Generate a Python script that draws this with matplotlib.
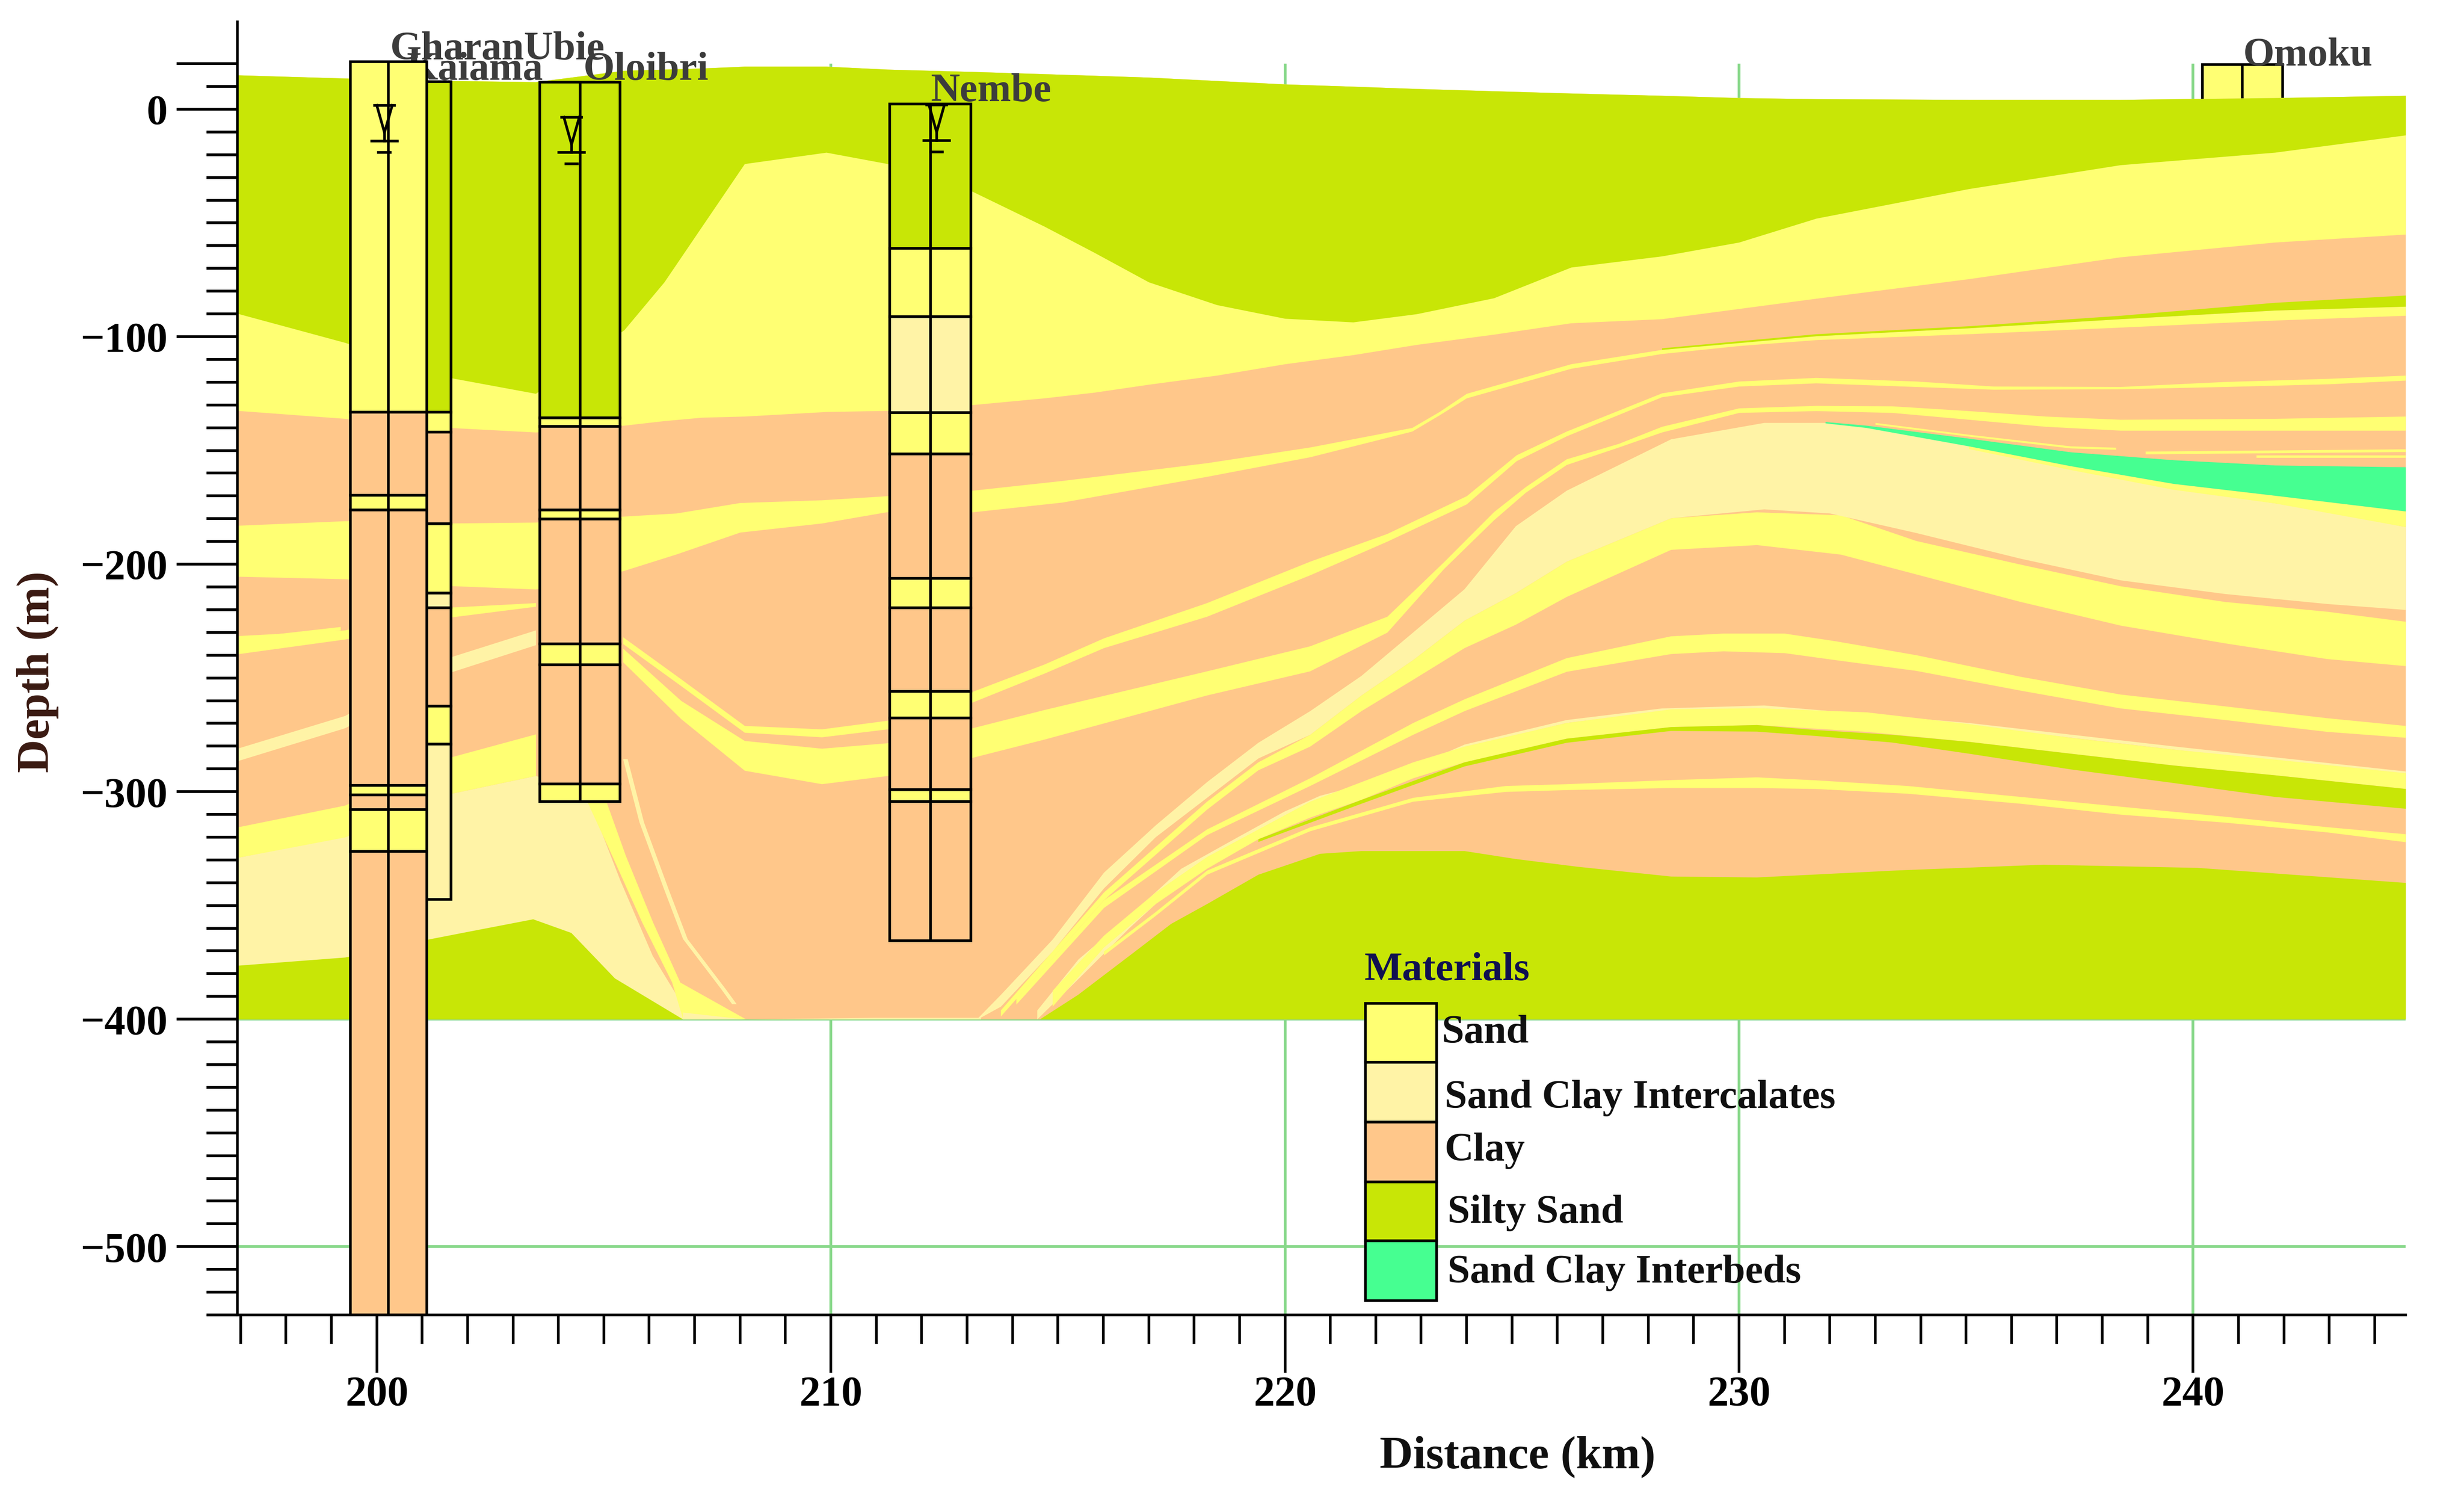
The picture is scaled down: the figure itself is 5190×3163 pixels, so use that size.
import numpy as np
import matplotlib
matplotlib.use('Agg')
import matplotlib.pyplot as plt
from matplotlib.patches import Rectangle

plt.rcParams['font.family'] = ['Liberation Serif', 'DejaVu Serif']

SAND = '#FFFF73'
SCI = '#FFF3A6'
CLAY = '#FFC78A'
SILTY = '#C8E606'
INTERBED = '#46FF91'
GRID = '#88D88A'
COLORS = {'sand': SAND, 'sci': SCI, 'clay': CLAY, 'silty': SILTY, 'interbed': INTERBED}

# top of the section, base of the silty sand, base of the first sand
main_x = [196.93, 199.3, 201.6, 203.5, 205.45, 206.33, 207.16, 208.1, 209.9, 211.25, 213.1, 214.7, 215.8, 217, 218.5,
          220, 221.5, 222.9, 224.6, 226.3, 228.3, 230, 231.7, 235.06, 238.4, 241.8, 244.68]
surface = [15, 13.6, 12.5, 12, 17, 17.5, 18, 18.8, 18.8, 17.5, 16.5, 15.5, 14.8, 14, 12.5,
           11, 10, 9, 8, 7, 6, 5, 4.5, 4.2, 4.2, 5, 6]
silty_base = [-89.8, -102.6, -118, -125, -97, -76, -51.6, -24, -19, -24, -36, -51.5, -63, -76, -86,
              -92, -93.6, -90, -83, -69.5, -64.6, -58.5, -48, -35, -24.5, -19, -11.4]
sand1_base = [-132.5, -136, -140, -142, -139, -137, -135.5, -135, -133, -132.5, -130, -127, -124.5, -121, -117,
              -112, -108, -103.5, -99, -94, -92.2, -87.7, -83.2, -74.6, -65, -58.5, -55]

# second sand, across the whole section
a_x = [196.93, 199.3, 201.6, 203.5, 205.42, 206.6, 208, 209.8, 211.25, 213.12, 215.1, 218.28, 220.55, 222.8, 223.4, 224,
       226.3, 228.3, 230, 231.7, 235.06, 238.4, 241.8, 244.68]
a_top = [-183, -181, -182, -181.6, -179, -177.6, -173, -171.8, -170, -167.6, -163.3, -155.5, -148.6, -140, -133, -125,
         -112, -105.7, -102, -99.7, -96.2, -92.2, -88.4, -86.7]
a_bot = [-205.4, -206.5, -209.5, -211, -203, -195.6, -186, -182, -177, -177.1, -172.8, -161.5, -152.9, -141.6, -134.5, -127,
         -114, -107.5, -104, -101.4, -98.8, -95.9, -92.8, -90.7]
a_silty_x = [228.3, 231.7, 235.06, 238.4, 241.8, 244.68]
a_silty_top = [-105, -98.8, -95.3, -90.7, -85, -81.8]
a_silty_bot = [-105.7, -99.7, -96.2, -92.2, -88.4, -86.7]

b_x = [196.93, 199.3, 201.6, 203.5]
b_top = [-231.5, -229, -219, -217]
b_bot = [-239.5, -233, -223.4, -218.6]
b2_x = [197.2, 199.2]
b2_top = [-232, -227.5]
b2_bot = [-233.5, -229]

c_x = [196.93, 199.3, 201.6, 203.5]
c_top = [-281, -266.6, -241, -229]
c_bot = [-286.5, -272, -247.7, -235.5]

p_x = [196.93, 199.3, 201.6, 203.5]
p_top = [-315.6, -306, -285, -274.7]
p_bot = [-329, -320, -301, -293]

# sand clay intercalates wedge on the left
n_x = [196.93, 199.3, 201.6, 203.5, 204.6, 205.36, 206.07, 206.74, 206.9]
n_top = [-329, -319.5, -301, -293, -300, -339, -372, -394, -400]

left_silty_x = [196.93, 199.3, 201.16, 201.88, 203.44, 204.28, 205.24, 206.74]
left_silty_top = [-376.4, -372.8, -364.8, -362, -356, -362, -382, -400]

sliver_depth = [-304.7, -328.1, -357.4, -383.8, -399.9]
sliver_left = [204.64, 205.18, 205.84, 206.5, 206.74]
sliver_right = [205.06, 205.48, 206.08, 206.68, 208.12]

thin_depth = [-285.6, -313.4, -342.7, -364.7, -386.7, -393.3]
thin_left = [205.42, 205.78, 206.32, 206.74, 207.58, 207.82]
thin_right = [205.52, 205.88, 206.42, 206.84, 207.68, 207.92]

strip_x = [206.74, 208.1, 211, 213.3]
strip_top = [-397, -400, -399.3, -399.3]

e_x = [205.42, 206.7, 208.1, 209.8, 211.25, 213.12, 214.7, 216.01, 218.28, 220.55, 222.25, 224, 225.1, 226.2,
       228.3, 230, 231.7, 233.9, 235.6, 238.4, 240.7, 243, 244.68]
e_top = [-232, -250.5, -271, -272.5, -268.7, -256, -244, -232.5, -217, -198.8, -186.6, -170, -152, -141.6,
         -124.8, -119.6, -118, -119.6, -121.8, -122, -119.8, -118.4, -117]
e_bot = [-235, -253.5, -274, -276, -272.5, -260.7, -248, -236.8, -223, -204.8, -190, -173.6, -154.6, -143.7,
         -126.5, -121.8, -120.4, -122, -123.2, -123, -122, -120.8, -119.2]

f_x = [205.42, 206.7, 208.1, 209.8, 211.25, 213.12, 214.7, 218.28, 220.55, 222.25, 223.5, 224.6, 225.3, 226.2,
       227.35, 228.3, 230, 231.7, 233.37, 235.06, 236.75, 238.4, 241.8, 244.68]
f_top = [-237, -260, -277.6, -281, -278.6, -272, -264, -247, -236, -223, -199, -177, -166, -153.8,
         -147, -139.5, -131.4, -130.3, -130.5, -132.6, -135, -136.4, -136, -135]
f_bot = [-243, -268, -290.7, -296.6, -293, -285, -277, -257.6, -247, -230, -202, -180.6, -168.5, -156.3,
         -148.6, -142, -133.4, -132.6, -133.4, -136.4, -139.5, -141.2, -141.2, -141.2]

# main sand clay intercalates band
g_x = [213.23, 213.74, 214.88, 216.01, 217.15, 218.28, 219.41, 220.55, 221.68, 222.82, 223.95, 225.08, 226.2,
       228.5, 230.55, 232, 233.9, 236.2, 238.4, 240.7, 242.95, 244.68]
g_top = [-399.6, -389.2, -364.9, -335.5, -314.7, -295.7, -278.4, -264.5, -249, -229.9, -210.9, -183.2, -167.6,
         -145, -137.8, -137.8, -142.4, -153.3, -162, -169.8, -176.7, -183.6]
g_bot = [-400, -394.4, -370.1, -342.4, -319.9, -302.6, -285.3, -274.9, -257.6, -242, -224.7, -212.6, -198.8,
         -179.7, -175.8, -177.6, -186.2, -197.5, -207, -213, -217.4, -220]

interbed_x = [231.9, 232.8, 235.06, 237.3, 239.57, 241.8, 244.68]
interbed_top = [-137.4, -139, -144.7, -150.7, -154.2, -156.5, -157.3]
interbed_bot = [-138, -140, -148.1, -156.8, -164.6, -169.8, -176.7]

cap_x = [235.06, 237.3, 239.57, 241.8, 244.68]
cap_bot = [-149.3, -158.5, -167.2, -173.2, -183.6]
cap_top = [-148.1, -156.8, -164.6, -169.8, -176.7]

# thin sand just above the interbeds
d_x = [233, 235.06, 237.3, 238.3]
d_top = [-137.8, -143, -148.1, -148.7]
d_bot = [-138.6, -143.8, -149, -149.6]

h1_x = [238.95, 244.68]
h1_top = [-150.4, -149.4]
h1_bot = [-151.6, -150.6]
h2_x = [241.4, 244.68]
h2_top = [-152.1, -152.1]
h2_bot = [-153.3, -153.3]

i_x = [213.74, 216.01, 218.28, 219.41, 220.55, 221.68, 222.82, 223.95, 225.08, 226.2, 228.5, 230.39, 232.24,
       233.9, 236.2, 238.4, 240.7, 242.95, 244.68]
i_top = [-396, -344.2, -304.3, -287, -274.9, -257.6, -242, -224.7, -212.6, -198.8, -179.7, -177.1, -178.4,
         -189.7, -200.1, -209.6, -216.5, -220.8, -225.2]
i_bot = [-398.7, -347.6, -307.8, -290.5, -280.1, -264.5, -250.7, -236.8, -226.5, -214.3, -193.6, -191.5, -195.7,
         -204.4, -216.5, -226.9, -234.7, -241.6, -244.7]

j_x = [214.08, 216.01, 218.28, 220.55, 222.82, 223.95, 226.2, 228.5, 229.65, 231, 232.13, 233.9, 236.2, 238.4,
       240.7, 242.95, 244.68]
j_top = [-390.9, -347.6, -316.5, -294, -269.7, -259.3, -241.2, -231.6, -230.4, -230.4, -233.8, -239.9, -249.4,
         -257.2, -262.4, -267.6, -271]
j_bot = [-393.5, -351, -319, -297.4, -274.9, -264.5, -247.2, -239.4, -238.2, -239, -242.1, -246.8, -255.5,
         -263.3, -268.4, -273.6, -276.2]

k_sci_x = [214.54, 215.45, 216.58, 217.71, 218.96, 219.98, 220.77, 222.25, 223.95, 226.2, 228.3, 230.55, 235.06,
           239.57, 244.68]
k_sci_top = [-396.1, -373.6, -354.5, -333.8, -319.9, -308.7, -301.7, -294, -279.2, -268.4, -263.3, -262, -269.7,
             -280, -291]
k_sci_bot = [-400, -382.2, -359.7, -339, -323.4, -313, -304.3, -295.7, -280.5, -269.7, -264.5, -263.3, -271,
             -281.4, -292.7]

k_x = [214.88, 216.01, 217.15, 218.28, 219.41, 220.55, 221.68, 222.82, 223.95, 226.2, 228.5, 230.39, 232.8,
       235.06, 237.3, 239.57, 241.8, 244.68]
k_top = [-387.4, -363.2, -344.2, -328.6, -316.5, -304.3, -295.7, -287, -280.1, -269.7, -263.7, -263.2, -265,
         -270.2, -276.2, -281.4, -285.8, -291.8]
k_bot = [-394.4, -368.4, -349.3, -333.8, -320.8, -311.3, -303.5, -294, -287, -276.6, -271.5, -270.6, -273.6,
         -278, -283.2, -288.4, -292.7, -298.7]

k_silty_x = [219.41, 221.68, 223.95, 226.2, 228.5, 230.39, 231.68, 233.37, 235.06, 237.3, 239.57, 241.8, 244.68]
k_silty_top = [-320.8, -303.5, -287, -276.6, -271.5, -270.6, -272.8, -274.9, -278, -283.2, -288.4, -292.7, -298.7]
k_silty_bot = [-322, -305.2, -288.8, -278.4, -273.2, -273.5, -275.4, -278.3, -283.2, -290.1, -296.1, -302.2, -307.4]

l_x = [216.01, 217.15, 218.28, 220.55, 222.82, 224.86, 226.2, 228.5, 230.39, 231.68, 233.71, 236.2, 238.4, 240.7,
       242.95, 244.68]
l_top = [-370.1, -352.8, -334.6, -315.6, -302.6, -297.4, -296.6, -294.8, -293.6, -294.9, -297.4, -302.2, -306.5,
         -310.9, -315.5, -318.6]
l_bot = [-371.9, -354.5, -336.4, -317.3, -304.3, -300, -299.2, -298.3, -298.3, -298.7, -300.8, -305.2, -310,
         -313.5, -317.8, -322.1]

# lower silty sand
m_x = [214.6, 215.44, 216.58, 217.49, 218.28, 219.41, 220.77, 221.68, 223.95, 225.08, 226.44, 228.5, 230.39,
       233.5, 236.7, 240.1, 244.68]
m_top = [-400, -389.2, -371.9, -358, -349.3, -336.4, -327.2, -326, -326, -329.5, -332.9, -337.2, -337.6,
         -334.5, -332, -333.4, -340]

# boreholes: depth of each change and the material in between
gharan_depth = [20.9, -133.2, -169.8, -176.2, -297.3, -301.5, -308, -326.3, -530]
gharan_mat = ['sand', 'clay', 'sand', 'clay', 'sand', 'clay', 'sand', 'clay']
kaiama_depth = [12.1, -133.2, -142, -182.3, -212.7, -219.2, -262.3, -279.1, -347.4]
kaiama_mat = ['silty', 'sand', 'clay', 'sand', 'sci', 'clay', 'sand', 'sci']
oloibri_depth = [11.9, -135.6, -139.5, -176.2, -180.2, -235, -244.3, -296.7, -304.4]
oloibri_mat = ['silty', 'sand', 'clay', 'sand', 'clay', 'sand', 'clay', 'sand']
nembe_depth = [2.3, -61.1, -91.2, -133.3, -151.5, -206.3, -219.2, -256, -267.6, -299.2, -304.4, -365.5]
nembe_mat = ['silty', 'sand', 'sci', 'sand', 'clay', 'sand', 'clay', 'sand', 'clay', 'sand', 'clay']
omoku_depth = [19.7, 0]
omoku_mat = ['sand']

water_x = [200.17, 204.29, 212.33]
water_y = [1.7, -3.5, 1.9]

legend_names = ['Sand', 'Sand Clay Intercalates', 'Clay', 'Silty Sand', 'Sand Clay Interbeds']
legend_mats = ['sand', 'sci', 'clay', 'silty', 'interbed']
legend_edges = [-393, -419, -445.3, -471.6, -497.5, -523.8]

y_major = [20, 0, -100, -200, -300, -400, -500]
y_labels = ['', '0', '\u2212100', '\u2212200', '\u2212300', '\u2212400', '\u2212500']
x_major = [200, 210, 220, 230, 240]

W, H = 5190, 3163
fig = plt.figure(figsize=(W / 100, H / 100), dpi=100)
ax = fig.add_axes([500 / W, 1 - 2769 / H, (5067 - 500) / W, (2769 - 46) / H])
ax.set_xlim(196.93, 244.68)
ax.set_ylim(-530, 38.4)

LW = 4

ax.vlines(x_major, -530, 20, color=GRID, lw=4.2, zorder=1)
ax.hlines(y_major[1:], 196.93, 244.68, color=GRID, lw=4.2, zorder=1)


def well(left, right, depth, mats, z=6):
    for i, m in enumerate(mats):
        ax.bar((left + right) / 2, depth[i + 1] - depth[i], bottom=depth[i], width=right - left,
               color=COLORS[m], edgecolor='black', linewidth=LW, zorder=z)
    ax.plot([(left + right) / 2] * 2, [depth[0], depth[-1]], color='black', lw=LW, zorder=z + 0.1,
            solid_capstyle='butt')


def band(x, top, bot, color, z=3):
    ax.fill_between(x, top, bot, color=color, lw=0, zorder=z)


well(240.2, 241.97, omoku_depth, omoku_mat, z=1.5)

band(main_x, surface, -400, CLAY, 2)
band(main_x, surface, sand1_base, SAND, 2.1)
band(main_x, surface, silty_base, SILTY, 2.2)

band(n_x, n_top, -400, SCI)
band(left_silty_x, left_silty_top, -400, SILTY, 3.2)
ax.fill_betweenx(sliver_depth, sliver_left, sliver_right, color=SAND, lw=0, zorder=3.1)
ax.fill_betweenx(thin_depth, thin_left, thin_right, color=SCI, lw=0, zorder=3.1)
band(strip_x, strip_top, -400, SCI, 3.1)
band(a_x, a_top, a_bot, SAND)
band(a_silty_x, a_silty_top, a_silty_bot, SILTY)
band(b_x, b_top, b_bot, SAND)
band(b2_x, b2_top, b2_bot, SAND)
band(c_x, c_top, c_bot, SCI)
band(p_x, p_top, p_bot, SAND)
band(e_x, e_top, e_bot, SAND)
band(f_x, f_top, f_bot, SAND)
band(i_x, i_top, i_bot, SAND)
band(g_x, g_top, g_bot, SCI)
band(cap_x, cap_top, cap_bot, SAND, 3.1)
band(interbed_x, interbed_top, interbed_bot, INTERBED, 3.2)
band(d_x, d_top, d_bot, SAND)
band(h1_x, h1_top, h1_bot, SAND)
band(h2_x, h2_top, h2_bot, SAND)
band(j_x, j_top, j_bot, SAND)
band(k_sci_x, k_sci_top, k_sci_bot, SCI)
band(k_x, k_top, k_bot, SAND, 3.1)
band(k_silty_x, k_silty_top, k_silty_bot, SILTY, 3.2)
band(l_x, l_top, l_bot, SAND)
band(m_x, m_top, -400, SILTY, 3.2)

well(200.56, 201.64, kaiama_depth, kaiama_mat, z=5)
well(203.59, 205.36, oloibri_depth, oloibri_mat)
well(211.3, 213.08, nembe_depth, nembe_mat)
well(199.42, 201.1, gharan_depth, gharan_mat, z=6.5)

# water level marks
for wx, wy in zip(water_x, water_y):
    ax.plot([wx - 0.22, wx + 0.22], [wy, wy], color='black', lw=LW, zorder=8)
    ax.plot([wx - 0.17, wx, wx + 0.17], [wy, wy - 12, wy], color='black', lw=LW, zorder=8)
    ax.plot([wx - 0.28, wx + 0.28], [wy - 15.6, wy - 15.6], color='black', lw=LW, zorder=8)
    ax.plot([wx, wx], [wy - 12, wy - 15.6], color='black', lw=LW, zorder=8)
    ax.plot([wx - 0.13, wx + 0.13], [wy - 20.6, wy - 20.6], color='black', lw=LW, zorder=8)

well_font = dict(fontsize=61, fontweight='bold', color='#3c3c3c', va='baseline', ha='left', zorder=9)
ax.text(200.3, 22, 'GharanUbie', **well_font)
# the K of this one sits behind the GharanUbie log
ax.text(200.66, 12.9, 'Kaiama', **{**well_font, 'zorder': 6.2})
ax.text(204.55, 12.9, 'Oloibri', **well_font)
ax.text(212.2, 3.6, 'Nembe', **well_font)
ax.text(241.1, 19.2, 'Omoku', **well_font)

# legend
legend_font = dict(fontsize=61, fontweight='bold', color='#101010', va='baseline', ha='left', zorder=10)
ax.text(221.75, -382.8, 'Materials', **{**legend_font, 'color': '#101050'})
for i, m in enumerate(legend_mats):
    ax.add_patch(Rectangle((221.77, legend_edges[i + 1]), 223.34 - 221.77, legend_edges[i] - legend_edges[i + 1],
                           facecolor=COLORS[m], edgecolor='black', lw=LW, zorder=9))
legend_text_x = [223.45, 223.52, 223.52, 223.58, 223.58]
legend_text_y = [-410.3, -439, -462.2, -489.6, -515.9]
for tx, ty, name in zip(legend_text_x, legend_text_y, legend_names):
    ax.text(tx, ty, name, **legend_font)

for side in ['top', 'right']:
    ax.spines[side].set_visible(False)
for side in ['left', 'bottom']:
    ax.spines[side].set_linewidth(LW)
    ax.spines[side].set_zorder(12)

ax.set_xticks(x_major)
ax.set_xticks(np.arange(197, 245), minor=True)
ax.set_yticks(y_major)
ax.set_yticklabels(y_labels)
ax.set_yticks(np.arange(-530, 21, 10), minor=True)
ax.tick_params(axis='x', which='major', length=88, width=LW, pad=4, labelsize=64)
ax.tick_params(axis='x', which='minor', length=44, width=LW)
ax.tick_params(axis='y', which='major', length=92, width=4.2, pad=14, labelsize=64)
ax.tick_params(axis='y', which='minor', length=47, width=4.2)
for lab in ax.get_xticklabels() + ax.get_yticklabels():
    lab.set_fontweight('bold')

fig.text(3197 / W, 1 - 3068 / H, 'Distance (km)', fontsize=70, fontweight='bold', color='#101010',
         ha='center', va='center')
fig.text(80 / W, 1 - 1415 / H, 'Depth (m)', fontsize=70, fontweight='bold', color='#3a1a12', rotation=90,
         ha='center', va='center')

fig.savefig('out.png', dpi=100)
